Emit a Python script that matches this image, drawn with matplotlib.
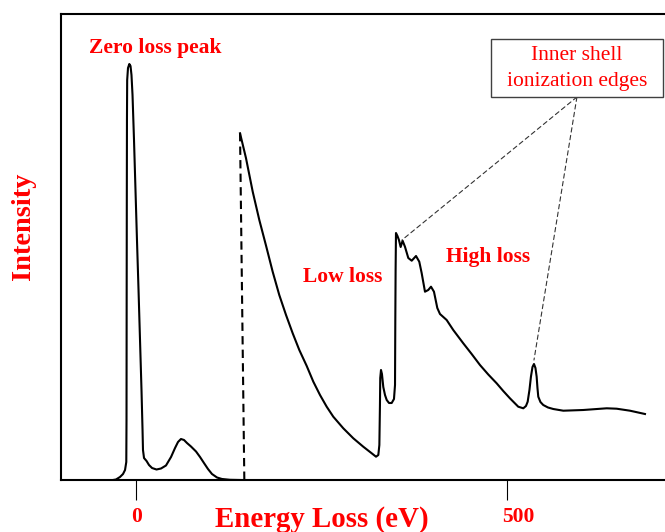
import matplotlib.pyplot as plt
from matplotlib.patches import Rectangle
from matplotlib.transforms import ScaledTranslation

plt.rcParams['font.family'] = ['Liberation Serif', 'DejaVu Serif']

# ----------- Spectrum data (energy loss in eV, intensity in a.u.) ----------- #

# zero loss peak + plasmon
zl_ev = [-31.0, -27.0, -21.6, -17.5, -14.8, -13.1, -12.8, -12.6, -12.4, -12.2, -11.9,
         -10.8, -9.0, -7.4, -6.1, -4.7, -2.7, -0.7, 1.3, 3.4, 5.4, 7.4, 8.8, 9.4,
         10.8, 14.2, 17.5, 21.6, 27.6, 33.7, 40.4, 47.2, 52.6, 56.6, 60.6, 64.7,
         68.7, 74.1, 80.9, 86.3, 91.6, 97.0, 102.4, 109.2, 115.9, 126.7, 140.2]
zl_int = [0, 0.5, 3, 6, 10, 18, 60, 180, 280, 360, 400,
          412, 416, 414, 405, 385, 340, 290, 240, 190, 140, 90, 50, 30,
          22, 19, 15, 12, 10.5, 11.5, 14.5, 23, 32, 38, 41, 40,
          37, 33.5, 28.5, 23, 17, 11, 6, 2.5, 1, 0.2, 0]

# scaled-up part of the spectrum with the ionization edges
hl_ev = [140.2, 148.2, 157.3, 166.2, 175.2, 184.2, 193.1, 202.2, 211.2, 220.1,
         230.1, 239.0, 248.0, 257.0, 265.9, 279.4, 292.9, 306.3, 317.7, 323.5,
         326.6, 328.0, 328.8, 329.2, 330.2,
         331.5, 333.3, 335.6, 337.9, 341.0, 344.6, 347.7, 349.1, 349.5,
         349.9, 350.4, 352.4, 354.4, 356.7, 359.3, 362.5, 367.0, 371.6, 377.4,
         381.8, 385.0, 389.5, 393.9, 397.6, 401.6, 406.1, 409.7, 418.7, 427.6,
         441.1, 452.4, 463.6, 474.8, 486.1, 495.0, 504.0, 515.2, 522.0, 525.6,
         527.9, 530.3, 532.3, 534.4, 536.4, 538.4, 540.0, 541.1, 542.2, 545.1,
         548.9, 555.3, 562.4, 575.9, 602.8, 634.4, 647.8, 665.8, 686.0]
hl_int = [346.7, 322, 288.3, 260, 234.5, 208.3, 185, 165, 146.7, 130,
          114, 98.3, 85, 73.3, 63.3, 51.7, 41.7, 33.3, 26.7, 23.3,
          25, 35, 75, 102, 110,
          106, 93, 85, 80, 77, 77, 81, 95, 160,
          210, 247, 244, 240, 233, 239.3, 233.3, 222, 219.3, 224,
          218.3, 207, 188.3, 190, 193.3, 188.3, 172, 166, 160, 150,
          136.7, 126, 115, 105.5, 96.7, 89, 81.7, 73.3, 71.7, 74,
          78.3, 90, 103.3, 113, 116, 112, 103.3, 92, 83.3, 78,
          75, 72.5, 71, 69.3, 70, 71.7, 71.3, 69.3, 66]

# dashed line where the scale changes
cut_ev = [140.2, 146.0]
cut_int = [347, 0]

# edges pointed at by the callout
edge_ev = [358.5, 536.4]
edge_int = [240, 120]
box_ev, box_int = 594.3, 383

xticks = [0, 500]
xticklabels = ['0', '500']

red = '#ff0000'

# ----------- Plot ----------- #

fig = plt.figure(figsize=(6.65, 5.32), dpi=100)
ax = fig.add_axes([61/665, 52/532, 604/665, 466/532])

ax.plot(zl_ev, zl_int, color='black', linewidth=1.5)
ax.plot(hl_ev, hl_int, color='black', linewidth=1.5)
ax.plot(cut_ev, cut_int, color='black', linewidth=1.5, dashes=(4, 2.5))

for ex, ey in zip(edge_ev, edge_int):
    ax.annotate('', xy=(ex, ey), xytext=(box_ev, box_int),
                arrowprops=dict(arrowstyle='-', color='#333333', lw=0.8,
                                linestyle=(0, (4, 3)), shrinkA=0, shrinkB=0))

# callout box
ax.add_patch(Rectangle((0.712, 0.822), 0.2848, 0.1245, transform=ax.transAxes,
                       facecolor='white', edgecolor='#404040', linewidth=1.0,
                       clip_on=False, zorder=3))
ax.text(box_ev, 411.5, 'Inner shell\nionization edges', color=red, fontsize=15.5,
        ha='center', va='center', linespacing=1.55, zorder=4)

ax.text(26.3, 426.7, 'Zero loss peak', color=red, fontsize=15.5,
        fontweight='bold', ha='center', va='baseline')
ax.text(278.3, 198.3, 'Low loss', color=red, fontsize=15.5,
        fontweight='bold', ha='center', va='baseline')
ax.text(474.8, 218.3, 'High loss', color=red, fontsize=15.5,
        fontweight='bold', ha='center', va='baseline')

ax.set_xlim(-101.1, 713)
ax.set_ylim(0, 466)

ax.spines['right'].set_visible(False)
for side in ['left', 'top', 'bottom']:
    ax.spines[side].set_linewidth(1.5)

ax.set_yticks([])
ax.set_xticks(xticks)
ax.set_xticklabels(xticklabels, color=red, fontsize=15.5, fontweight='bold')
ax.tick_params(axis='x', direction='out', length=14.4, width=0.8, pad=5)
for lab, dx in zip(ax.get_xticklabels(), [0.01, 0.11]):
    lab.set_transform(lab.get_transform() + ScaledTranslation(dx, 0, fig.dpi_scale_trans))

ax.set_xlabel('Energy Loss (eV)', color=red, fontsize=20.8, fontweight='bold')
ax.xaxis.label.set_va('baseline')
ax.xaxis.set_label_coords(0.4316, -0.1009)

ax.set_ylabel('Intensity', color=red, fontsize=20.4, fontweight='bold')
ax.yaxis.label.set_va('baseline')
ax.yaxis.set_label_coords(-0.0505, 0.544)

fig.savefig('out.png', dpi=100)
